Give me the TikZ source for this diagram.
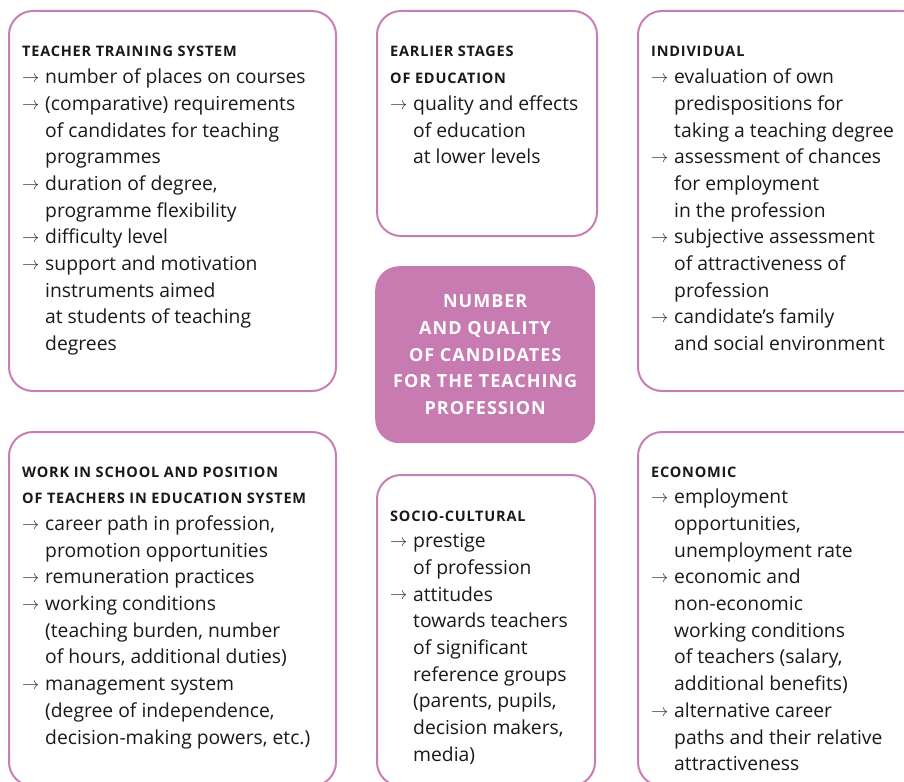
\documentclass[tikz,border=0pt]{standalone}
\usepackage{fontspec}
\setmainfont{Open Sans}
\definecolor{pinkline}{RGB}{200,125,180}
\definecolor{pinkfill}{RGB}{199,123,177}
\definecolor{txtgray}{RGB}{25,25,25}
\newcommand\hd[1]{{\fontsize{14.5}{26.7}\selectfont\bfseries\addfontfeatures{LetterSpace=5.5}#1}}
\newcommand\ar{\makebox[23pt][l]{\color{txtgray!90}\fontsize{16.5}{26.7}\selectfont\raisebox{1.3pt}{$\rightarrow$}}}
\newcommand\ind{\hspace*{23pt}}
\tikzset{
  box/.style={draw=pinkline, line width=2pt, rounded corners=24pt, anchor=north west, inner sep=0pt},
  centerbox/.style={fill=pinkfill, rounded corners=24pt, anchor=north west, inner sep=0pt},
  txt/.style={inner sep=0pt, anchor=base west, text=txtgray},
  ctxt/.style={inner sep=0pt, text=white, align=center,
    font=\fontsize{18}{26.8}\selectfont\bfseries\addfontfeatures{LetterSpace=5.5}},
}
\newcommand\tb[2]{\parbox[t]{#1}{\fontsize{19.3}{26.7}\selectfont\raggedright #2}}
\begin{document}
\begin{tikzpicture}[x=1pt,y=-1pt]
\useasboundingbox (0,0) rectangle (904,781);
\clip (0,0) rectangle (904,781);
% boxes
\node[box, minimum width=327pt, minimum height=380pt] (b1) at (8,10) {};
\node[box, minimum width=220pt, minimum height=225pt] (b2) at (376,10) {};
\node[box, minimum width=288pt, minimum height=380pt] (b3) at (637,10) {};
\node[box, minimum width=327pt, minimum height=354pt] (b4) at (8,431) {};
\node[box, minimum width=218pt, minimum height=311pt] (b5) at (376,474) {};
\node[box, minimum width=288pt, minimum height=354pt] (b6) at (637,431) {};
\node[centerbox, minimum width=220pt, minimum height=177pt] (cb) at (375,266) {};
% texts
\node[txt] (t1) at (22,57) {\tb{310pt}{%
\hd{TEACHER TRAINING SYSTEM}\newline
\ar number of places on courses\newline
\ar (comparative) requirements\newline
\ind of candidates for teaching\newline
\ind programmes\newline
\ar duration of degree,\newline
\ind programme flexibility\newline
\ar difficulty level\newline
\ar support and motivation\newline
\ind instruments aimed\newline
\ind at students of teaching\newline
\ind degrees}};
\node[txt] (t2) at (390,57) {\tb{205pt}{%
\hd{EARLIER STAGES}\newline
\hd{OF EDUCATION}\newline
\ar quality and effects\newline
\ind of education\newline
\ind at lower levels}};
\node[txt] (t3) at (651,57) {\tb{260pt}{%
\hd{INDIVIDUAL}\newline
\ar evaluation of own\newline
\ind predispositions for\newline
\ind taking a teaching degree\newline
\ar assessment of chances\newline
\ind for employment\newline
\ind in the profession\newline
\ar subjective assessment\newline
\ind of attractiveness of\newline
\ind profession\newline
\ar candidate’s family\newline
\ind and social environment}};
\node[txt] (t4) at (22,477) {\tb{310pt}{%
\hd{WORK IN SCHOOL AND POSITION}\newline
\hd{OF TEACHERS IN EDUCATION SYSTEM}\newline
\ar career path in profession,\newline
\ind promotion opportunities\newline
\ar remuneration practices\newline
\ar working conditions\newline
\ind (teaching burden, number\newline
\ind of hours, additional duties)\newline
\ar management system\newline
\ind (degree of independence,\newline
\ind decision-making powers, etc.)}};
\node[txt] (t5) at (390,521) {\tb{205pt}{%
\hd{SOCIO-CULTURAL}\newline
\ar prestige\newline
\ind of profession\newline
\ar attitudes\newline
\ind towards teachers\newline
\ind of significant\newline
\ind reference groups\newline
\ind (parents, pupils,\newline
\ind decision makers,\newline
\ind media)}};
\node[txt] (t6) at (651,477) {\tb{260pt}{%
\hd{ECONOMIC}\newline
\ar employment\newline
\ind opportunities,\newline
\ind unemployment rate\newline
\ar economic and\newline
\ind non-economic\newline
\ind working conditions\newline
\ind of teachers (salary,\newline
\ind additional benefits)\newline
\ar alternative career\newline
\ind paths and their relative\newline
\ind attractiveness}};
\node[ctxt] (ct) at (cb.center) {NUMBER\\AND QUALITY\\OF CANDIDATES\\FOR THE TEACHING\\PROFESSION};
\end{tikzpicture}
\end{document}
